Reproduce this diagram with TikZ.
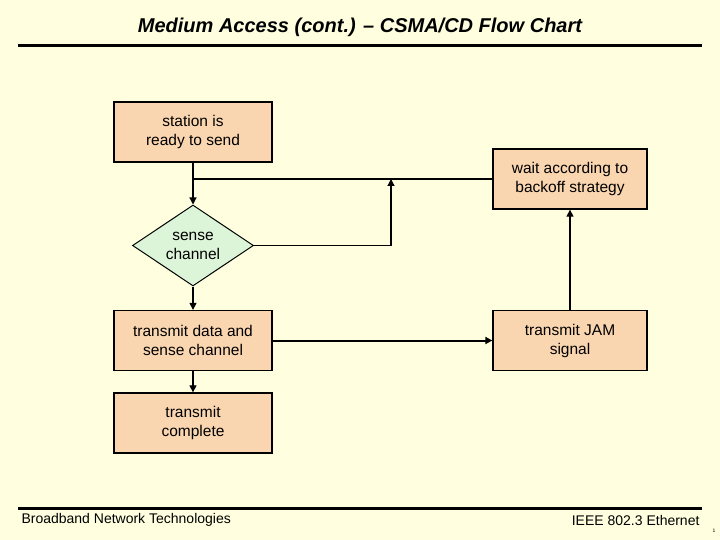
\documentclass[tikz,border=0pt]{standalone}
\usepackage{fontspec}
\setmainfont{Liberation Sans}
\usetikzlibrary{shapes.geometric,arrows.meta}
\definecolor{bg}{HTML}{FFFFE0}
\definecolor{boxfill}{HTML}{FAD6B0}
\definecolor{dfill}{HTML}{DCF4D8}
\tikzset{
  stepbox/.style={draw=black,line width=1.3pt,fill=boxfill,minimum width=158pt,minimum height=60pt,inner sep=0pt,align=center,font=\fontsize{15.5}{19}\selectfont},
  decide/.style={diamond,draw=black,line width=1pt,fill=dfill,minimum width=121pt,minimum height=81pt,aspect=1.5,inner sep=0pt,align=center,font=\fontsize{15.5}{19}\selectfont},
  conn/.style={line width=1.2pt,-{Triangle[length=7pt,width=7pt]}},
  plain/.style={line width=1.2pt},
  rulebar/.style={line width=3pt}
}
\begin{document}
\begin{tikzpicture}[x=1pt,y=-1pt]
\fill[bg] (0,0) rectangle (720,540);
\useasboundingbox (0,0) rectangle (720,540);
\node[font=\fontsize{20}{24}\selectfont\bfseries\itshape] (title) at (360,27) {Medium Access (cont.) – CSMA/CD Flow Chart};
\coordinate (r1a) at (18,45.5); \coordinate (r1b) at (702,45.5);
\draw[rulebar] (r1a) -- (r1b);
\coordinate (r2a) at (18,508); \coordinate (r2b) at (702,508);
\draw[rulebar] (r2a) -- (r2b);
\node[anchor=west,font=\fontsize{14}{16}\selectfont] (fl) at (18,520) {Broadband Network Technologies};
\node[anchor=east,font=\fontsize{14}{16}\selectfont] (fr) at (703,520) {IEEE 802.3 Ethernet};
\node[font=\fontsize{5}{6}\selectfont] (pg) at (714,531) {1};

\node[stepbox] (ready) at (193,132) {station is\\ready to send};
\node[decide] (sense) at (193,245.5) {sense\\channel};
\node[stepbox] (tx) at (193,340.5) {transmit data and\\sense channel};
\node[stepbox] (done) at (193,423) {transmit\\complete};
\node[stepbox,minimum width=154pt] (wait) at (570,179) {wait according to\\backoff strategy};
\node[stepbox,minimum width=154pt] (jam) at (570,340.5) {transmit JAM\\signal};

\coordinate (j1) at (193,179);
\coordinate (j2) at (391,179);
\draw[conn] (ready.south) -- (sense.north);
\draw[plain] (wait.west) -- (j1);
\draw[conn] (sense.east) -| (j2);
\draw[conn] (sense.south) -- (tx.north);
\draw[conn] (tx.south) -- (done.north);
\draw[conn,line width=2pt] (tx.east) -- (jam.west);
\draw[conn] (jam.north) -- (wait.south);
\end{tikzpicture}
\end{document}
